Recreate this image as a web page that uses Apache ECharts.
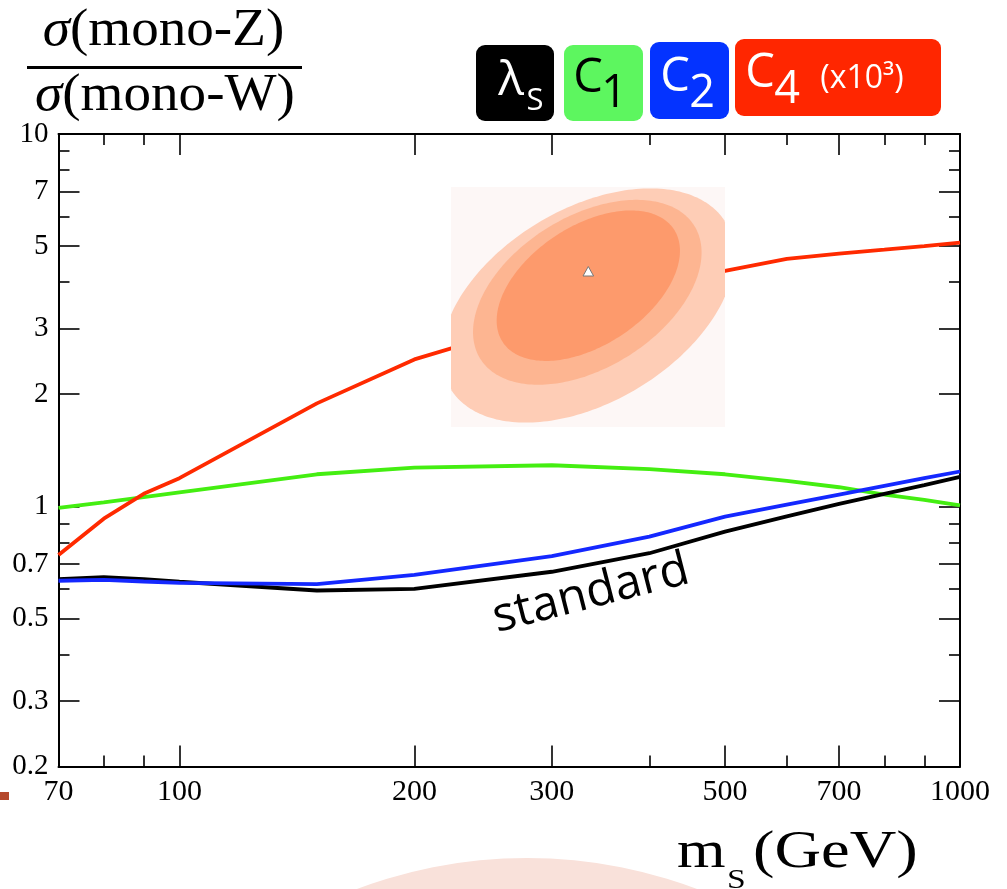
<!DOCTYPE html>
<html><head><meta charset="utf-8">
<script src="https://cdn.jsdelivr.net/npm/echarts@6/dist/echarts.min.js"></script>
<style>html,body{margin:0;padding:0;background:#fff}#c{width:1007px;height:889px}</style>
</head><body><div id="c"></div>
<script>
// ---- data ----
const masses  = [70, 80, 90, 100, 150, 200, 300, 400, 500, 600, 700, 800, 900, 1000];
const lambdaS = [0.637, 0.645, 0.637, 0.627, 0.594, 0.600, 0.667, 0.748, 0.855, 0.940, 1.015, 1.080, 1.140, 1.200];
const c1      = [0.990, 1.025, 1.058, 1.090, 1.219, 1.270, 1.289, 1.259, 1.219, 1.170, 1.125, 1.075, 1.040, 1.005];
const c2      = [0.631, 0.634, 0.628, 0.623, 0.618, 0.654, 0.735, 0.829, 0.938, 1.010, 1.075, 1.135, 1.190, 1.240];
const c4      = [0.740, 0.926, 1.080, 1.190, 1.890, 2.480, 3.200, 3.800, 4.290, 4.620, 4.770, 4.890, 5.000, 5.110];
const xTickLabels = [70, 100, 200, 300, 500, 700, 1000];
const xMajorTicks = [100, 200, 300, 500, 700];
const xMinorTicks = [80, 90, 400, 600, 800, 900];
const yTickLabels = [0.2, 0.3, 0.5, 0.7, 1, 2, 3, 5, 7, 10];
const yMajorTicks = [0.3, 0.5, 0.7, 1, 2, 3, 5, 7];
const yMinorTicks = [0.4, 0.6, 0.8, 0.9, 4, 6, 8, 9];

const chart = echarts.init(document.getElementById('c'), null, {renderer: 'canvas'});
const SERIF = "'Liberation Serif', 'DejaVu Serif', serif";
const SANS = "'Open Sans', 'Lato', sans-serif";

function xAxisDef(pos, ticks, len, withLabels, withLine) {
  return {
    type: 'log', logBase: 10, min: 70, max: 1000, position: pos,
    axisLine: {show: withLine, onZero: false, lineStyle: {color: '#000', width: 2}},
    axisTick: {show: true, inside: true, length: len, customValues: ticks, lineStyle: {color: '#000', width: 1.6}},
    axisLabel: withLabels ? {show: true, customValues: xTickLabels, margin: 11, color: '#000',
      fontFamily: SERIF, fontSize: 30, formatter: v => String(Math.round(v))} : {show: false},
    splitLine: {show: false}, minorTick: {show: false}
  };
}
function yAxisDef(pos, ticks, len, withLabels, withLine) {
  return {
    type: 'log', logBase: 10, min: 0.2, max: 10, position: pos,
    axisLine: {show: withLine, onZero: false, lineStyle: {color: '#000', width: 2}},
    axisTick: {show: true, inside: true, length: len, customValues: ticks, lineStyle: {color: '#000', width: 1.6}},
    axisLabel: withLabels ? {show: true, customValues: yTickLabels, margin: 10, color: '#000',
      fontFamily: SERIF, fontSize: 29, formatter: v => String(Math.round(v * 100) / 100)} : {show: false},
    splitLine: {show: false}, minorTick: {show: false}
  };
}

function pairs(arr) { return masses.map((m, i) => [m, arr[i]]); }
function line(name, arr, color) {
  return {name, type: 'line', data: pairs(arr), showSymbol: false, symbol: 'none', smooth: false,
    lineStyle: {color, width: 3.8}, itemStyle: {color}, xAxisIndex: 0, yAxisIndex: 0, animation: false};
}

// inset ellipse helper (decoration)
function ellipsePts(cx, cy, a, b, deg, box) {
  const th = deg * Math.PI / 180, pts = [];
  for (let i = 0; i < 240; i++) {
    const t = i / 240 * 2 * Math.PI;
    let x = cx + a * Math.cos(t) * Math.cos(th) + b * Math.sin(t) * Math.sin(th);
    let y = cy - a * Math.cos(t) * Math.sin(th) + b * Math.sin(t) * Math.cos(th);
    x = Math.min(box[2], Math.max(box[0], x));
    y = Math.min(box[3], Math.max(box[1], y));
    pts.push([x, y]);
  }
  return pts;
}
const insetBox = [451, 187, 725, 427];

function txt(text, x, y, size, color, family, opts) {
  opts = opts || {};
  const style = Object.assign({text, x: 0, y: 0, fill: color, fontSize: size, fontFamily: family,
    textAlign: 'center', textVerticalAlign: 'middle'}, opts.style || {});
  const el = {type: 'text', x, y, z: 50, style};
  if (opts.scaleX) el.scaleX = opts.scaleX;
  if (opts.rotation) el.rotation = opts.rotation;
  return el;
}
const richSigma = {i: {fontStyle: 'italic', fontFamily: SERIF, fontSize: 52, fill: '#000'}};

const graphics = [
  // slide decorations
  {type: 'circle', shape: {cx: 527, cy: 1340, r: 482}, style: {fill: '#f9e1da'}, z: 0},
  {type: 'rect', shape: {x: 0, y: 792, width: 9, height: 8}, style: {fill: '#b5482c'}, z: 0},
  // inset
  {type: 'rect', shape: {x: 451, y: 187, width: 274, height: 240}, style: {fill: '#fdf7f6'}, z: 40},
  {type: 'polygon', shape: {points: ellipsePts(588, 305.5, 160.8, 96.6, 31, insetBox)}, style: {fill: '#fecdb6'}, z: 41},
  {type: 'polygon', shape: {points: ellipsePts(587.3, 292.3, 126, 75.7, 31.8, insetBox)}, style: {fill: '#fdb591'}, z: 42},
  {type: 'polygon', shape: {points: ellipsePts(588.3, 285.7, 102.5, 59.6, 33.4, insetBox)}, style: {fill: '#fd9a6c'}, z: 43},
  {type: 'polygon', shape: {points: [[588.3, 266.5], [583, 276], [593.6, 276]]}, style: {fill: '#fff', stroke: '#777', lineWidth: 1}, z: 44},
  // legend boxes
  {type: 'rect', shape: {x: 476, y: 45, width: 78, height: 76, r: 9}, style: {fill: '#000'}, z: 45},
  {type: 'rect', shape: {x: 564, y: 45, width: 79, height: 76, r: 9}, style: {fill: '#5df65f'}, z: 45},
  {type: 'rect', shape: {x: 650, y: 42, width: 79, height: 77, r: 9}, style: {fill: '#0433ff'}, z: 45},
  {type: 'rect', shape: {x: 735, y: 39, width: 206, height: 77, r: 9}, style: {fill: '#ff2600'}, z: 45},
  txt('λ', 511, 81, 48, '#fff', SANS, {style: {fontWeight: 500}}),
  txt('S', 535, 101, 31, '#fff', SANS, {style: {fontWeight: 500}}),
  txt('C', 588, 79, 47, '#000', SANS, {style: {fontWeight: 500}}),
  txt('1', 614, 94, 45, '#000', SANS, {style: {fontWeight: 500}}),
  txt('C', 675, 77.5, 47, '#fff', SANS, {style: {fontWeight: 500}}),
  txt('2', 702, 94, 45, '#fff', SANS, {style: {fontWeight: 500}}),
  txt('C', 760, 74, 47, '#fff', SANS, {style: {fontWeight: 500}}),
  txt('4', 787, 90, 45, '#fff', SANS, {style: {fontWeight: 500}}),
  txt('(x10³)', 862, 78.5, 32, '#fff', SANS, {style: {fontWeight: 500}}),
  // annotation
  txt('standard', 591, 594, 48, '#000', SANS, {rotation: 0.25}),
  // y title fraction
  txt('{i|σ}(mono-Z)', 163.5, 31, 52, '#000', SERIF, {scaleX: 1.06, style: {rich: richSigma}}),
  {type: 'rect', shape: {x: 27, y: 66, width: 275, height: 3}, style: {fill: '#000'}, z: 50},
  txt('{i|σ}(mono-W)', 165, 96, 52, '#000', SERIF, {scaleX: 1.06, style: {rich: richSigma}}),
  // x title
  txt('m', 677, 853, 52, '#000', SERIF, {scaleX: 1.2, style: {textAlign: 'left'}}),
  txt('S', 727, 881, 28, '#000', SERIF, {scaleX: 1.2, style: {textAlign: 'left'}}),
  txt('(GeV)', 753, 853, 52, '#000', SERIF, {scaleX: 1.24, style: {textAlign: 'left'}})
];

chart.setOption({
  animation: false,
  backgroundColor: '#fff',
  grid: {left: 58.5, right: 47, top: 134, bottom: 122.5, containLabel: false},
  xAxis: [
    xAxisDef('bottom', xMajorTicks, 21, true, true),
    xAxisDef('bottom', xMinorTicks, 11, false, false),
    xAxisDef('top', xMajorTicks, 21, false, true),
    xAxisDef('top', xMinorTicks, 11, false, false)
  ],
  yAxis: [
    yAxisDef('left', yMajorTicks, 21, true, true),
    yAxisDef('left', yMinorTicks, 11, false, false),
    yAxisDef('right', yMajorTicks, 21, false, true),
    yAxisDef('right', yMinorTicks, 11, false, false)
  ],
  series: [
    line('c1', c1, '#44ee11'),
    line('lambdaS', lambdaS, '#000000'),
    line('c2', c2, '#1428ff'),
    line('c4', c4, '#ff2a00')
  ],
  graphic: {elements: graphics}
});
</script></body></html>
